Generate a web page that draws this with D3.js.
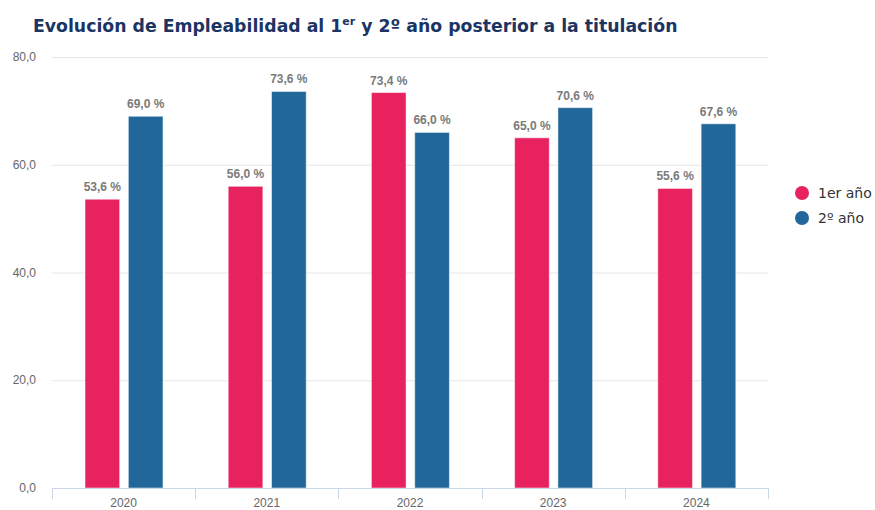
<!DOCTYPE html>
<html>
<head>
<meta charset="utf-8">
<script src="https://cdn.jsdelivr.net/npm/d3@7"></script>
<style>
  body { margin: 0; background: #fff; }
  svg { display: block; }
</style>
</head>
<body>
<svg id="chart" width="875" height="510"></svg>
<script>
// Data
const years = ['2020', '2021', '2022', '2023', '2024'];
const seriesNames = ['1er año', '2º año'];
const firstYear = [53.6, 56.0, 73.4, 65.0, 55.6];
const secondYear = [69.0, 73.6, 66.0, 70.6, 67.6];
const yTicks = [0, 20, 40, 60, 80];

const colors = ['#e8215f', '#21679a'];
const svg = d3.select('#chart');

const x0 = d3.scaleBand().domain(years).range([52, 768]).padding(0);
const x1 = d3.scaleBand().domain(seriesNames)
  .range([33 / 143.2 * x0.bandwidth(), 111 / 143.2 * x0.bandwidth()])
  .paddingInner(0.2);
const y = d3.scaleLinear().domain([0, 80]).range([488, 57]);

// Title
const title = svg.append('text')
  .attr('x', 33).attr('y', 32)
  .attr('font-family', 'DejaVu Sans, Verdana, sans-serif')
  .attr('font-weight', 'bold')
  .attr('font-size', '17.3px')
  .attr('fill', '#1a3463');
title.append('tspan').text('Evolución de Empleabilidad al 1');
title.append('tspan').attr('font-size', '11px').attr('dy', -7).text('er');
title.append('tspan').attr('dy', 7).text(' y 2º año posterior a la titulación');

// Gridlines
svg.append('g')
  .selectAll('line')
  .data(yTicks.filter(d => d > 0))
  .join('line')
  .attr('x1', 52).attr('x2', 768)
  .attr('y1', d => y(d) + 0.5).attr('y2', d => y(d) + 0.5)
  .attr('stroke', '#e6e6e6').attr('stroke-width', 1);

// Y axis labels
svg.append('g')
  .selectAll('text')
  .data(yTicks)
  .join('text')
  .attr('x', 36).attr('y', d => y(d) + 4)
  .attr('text-anchor', 'end')
  .attr('font-family', 'Liberation Sans, Arial, sans-serif')
  .attr('font-size', '12px')
  .attr('fill', '#666')
  .text(d => d3.format('.1f')(d).replace('.', ','));

// Bars
const series = [firstYear, secondYear];
const groups = svg.append('g')
  .selectAll('g')
  .data(years)
  .join('g')
  .attr('transform', d => `translate(${x0(d)},0)`);

groups.selectAll('rect')
  .data((d, i) => series.map((s, j) => ({ name: seriesNames[j], value: s[i], j })))
  .join('rect')
  .attr('x', d => x1(d.name))
  .attr('y', d => y(d.value))
  .attr('width', x1.bandwidth())
  .attr('height', d => y(0) - y(d.value))
  .attr('fill', d => colors[d.j])
  .attr('stroke', '#ffffff')
  .attr('stroke-opacity', 0.5)
  .attr('stroke-width', 1);

groups.selectAll('text')
  .data((d, i) => series.map((s, j) => ({ name: seriesNames[j], value: s[i], j })))
  .join('text')
  .attr('x', d => x1(d.name) + x1.bandwidth() / 2)
  .attr('y', d => y(d.value) - 8)
  .attr('text-anchor', 'middle')
  .attr('font-family', 'Liberation Sans, Arial, sans-serif')
  .attr('font-weight', 'bold')
  .attr('font-size', '12px')
  .attr('fill', '#7a7a7a')
  .text(d => d3.format('.1f')(d.value).replace('.', ',') + ' %');

// X axis
const xAxis = svg.append('g');
xAxis.append('line')
  .attr('x1', 52).attr('x2', 768)
  .attr('y1', 488.5).attr('y2', 488.5)
  .attr('stroke', '#ccd6eb');
xAxis.selectAll('line.tick')
  .data(years.map(d => x0(d)).concat([x0.range()[1]]))
  .join('line')
  .attr('class', 'tick')
  .attr('x1', d => Math.round(d) + 0.5).attr('x2', d => Math.round(d) + 0.5)
  .attr('y1', 488).attr('y2', 499)
  .attr('stroke', '#ccd6eb');
xAxis.selectAll('text')
  .data(years)
  .join('text')
  .attr('x', d => x0(d) + x0.bandwidth() / 2)
  .attr('y', 507)
  .attr('text-anchor', 'middle')
  .attr('font-family', 'Liberation Sans, Arial, sans-serif')
  .attr('font-size', '12px')
  .attr('fill', '#666')
  .text(d => d);

// Legend
const legend = svg.append('g')
  .selectAll('g')
  .data(seriesNames)
  .join('g')
  .attr('transform', (d, i) => `translate(802, ${193 + i * 25})`);
legend.append('circle')
  .attr('r', 7)
  .attr('fill', (d, i) => colors[i]);
legend.append('text')
  .attr('x', 16).attr('y', 5)
  .attr('font-family', 'DejaVu Sans, Verdana, sans-serif')
  .attr('font-size', '14px')
  .attr('fill', '#333')
  .text(d => d);
</script>
</body>
</html>
